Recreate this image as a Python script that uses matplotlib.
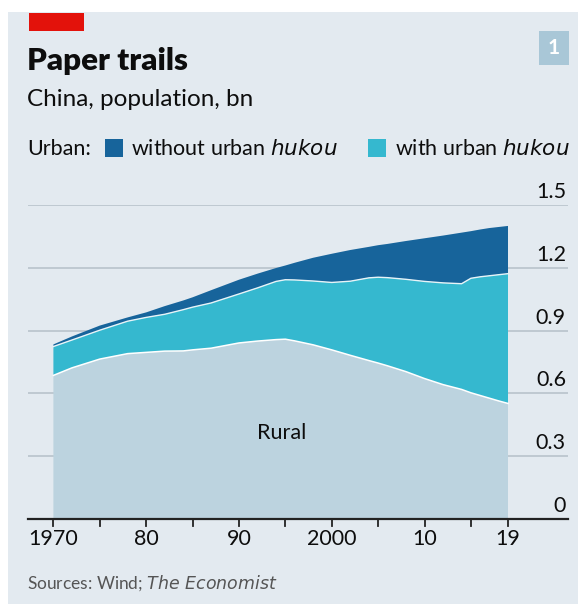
import matplotlib
matplotlib.use("Agg")
import matplotlib.pyplot as plt
from matplotlib.patches import Rectangle
import matplotlib.transforms as mtransforms

# ---- data (bn) ----
years = [1970, 1972, 1975, 1978, 1980, 1982, 1984, 1985, 1987, 1990, 1992, 1994,
         1995, 1996, 1998, 2000, 2002, 2004, 2005, 2006, 2008, 2010, 2012, 2014,
         2015, 2016, 2017, 2018, 2019]
rural = [0.686, 0.722, 0.764, 0.790, 0.796, 0.802, 0.803, 0.808, 0.816, 0.841, 0.850, 0.857,
         0.859, 0.851, 0.832, 0.808, 0.782, 0.757, 0.745, 0.732, 0.704, 0.671, 0.642, 0.619,
         0.603, 0.590, 0.577, 0.564, 0.552]
urban_hukou = [0.138, 0.133, 0.138, 0.155, 0.167, 0.176, 0.197, 0.204, 0.216, 0.234, 0.254, 0.278,
               0.284, 0.291, 0.305, 0.322, 0.354, 0.395, 0.410, 0.421, 0.441, 0.464, 0.486, 0.505,
               0.547, 0.567, 0.585, 0.603, 0.620]
urban_no_hukou = [0.010, 0.017, 0.022, 0.018, 0.024, 0.039, 0.044, 0.047, 0.061, 0.068, 0.068, 0.064,
                  0.068, 0.082, 0.111, 0.137, 0.149, 0.148, 0.153, 0.161, 0.183, 0.206, 0.226, 0.244,
                  0.225, 0.226, 0.228, 0.228, 0.228]

y_ticks = [0, 0.3, 0.6, 0.9, 1.2, 1.5]
y_tick_labels = ["0", "0.3", "0.6", "0.9", "1.2", "1.5"]
x_label_years = [1970, 1980, 1990, 2000, 2010, 2019]
x_labels = ["1970", "80", "90", "2000", "10", "19"]
x_minor_years = [1970, 1975, 1980, 1985, 1990, 1995, 2000, 2005, 2010, 2015, 2019]

# ---- styling ----
W, H = 578, 604
BG = "#e3eaf0"
C_RURAL = "#bcd3df"
C_HUKOU = "#35b8cf"
C_NOHUKOU = "#17649b"
GRID = "#bcc6ce"
FONT = "Lato"
TXT = "#0d0d0d"
plt.rcParams["font.family"] = [FONT, "DejaVu Sans"]

fig = plt.figure(figsize=(W / 100, H / 100), dpi=100, facecolor="white")

def fx(px):
    return px / W

def fy(py):
    return 1 - py / H

# panel background
fig.patches.append(Rectangle((fx(8), 0), 1 - fx(8), fy(12), transform=fig.transFigure,
                             facecolor=BG, edgecolor="none", zorder=-10))
# red tag
fig.patches.append(Rectangle((fx(29), fy(31)), fx(84) - fx(29), fy(13) - fy(31),
                             transform=fig.transFigure, facecolor="#e3120b", edgecolor="none", zorder=-5))
# number box
fig.patches.append(Rectangle((fx(539), fy(65)), fx(569) - fx(539), fy(31) - fy(65),
                             transform=fig.transFigure, facecolor="#a9c7d7", edgecolor="none", zorder=-5))
fig.text(fx(554), fy(48), "1", color="white", fontsize=15, fontweight="bold",
         ha="center", va="center")

# titles
fig.text(fx(27), fy(70), "Paper trails", fontsize=22.5, fontweight="heavy", color=TXT,
         ha="left", va="baseline")
fig.text(fx(27), fy(106), "China, population, bn", fontsize=17.5, color=TXT,
         ha="left", va="baseline")

# legend
ly = 155
LFS = 15.5
fig.text(fx(27), fy(ly), "Urban:", fontsize=LFS, color=TXT, ha="left", va="baseline")
fig.patches.append(Rectangle((fx(105), fy(157)), fx(123) - fx(105), fy(139) - fy(157),
                             transform=fig.transFigure, facecolor=C_NOHUKOU, edgecolor="none", zorder=-5))
fig.text(fx(131), fy(ly), "without urban $\\it{hukou}$", fontsize=LFS, color=TXT,
         ha="left", va="baseline")
fig.patches.append(Rectangle((fx(368), fy(157)), fx(386) - fx(368), fy(139) - fy(157),
                             transform=fig.transFigure, facecolor=C_HUKOU, edgecolor="none", zorder=-5))
fig.text(fx(395), fy(ly), "with urban $\\it{hukou}$", fontsize=LFS, color=TXT,
         ha="left", va="baseline")

# axes
ax_l, ax_r, ax_t, ax_b = 28, 568, 205, 519
ax = fig.add_axes([fx(ax_l), fy(ax_b), fx(ax_r) - fx(ax_l), fy(ax_t) - fy(ax_b)])
ax.set_zorder(5)
ax.set_facecolor("none")
ax.set_ylim(0, 1.5)
px_per_year = (508 - 53.4) / 49
ax.set_xlim(1970 - (53.4 - ax_l) / px_per_year, 2019 + (ax_r - 508) / px_per_year)
for s in ax.spines.values():
    s.set_visible(False)
ax.set_xticks([])
ax.set_yticks([])

for t in y_ticks[1:]:
    ax.axhline(t, color=GRID, lw=1.3, zorder=0)

ax.stackplot(years, rural, urban_hukou, urban_no_hukou,
             colors=[C_RURAL, C_HUKOU, C_NOHUKOU], linewidth=0, zorder=2)
top2 = [r + h for r, h in zip(rural, urban_hukou)]
ax.plot(years, rural, color="white", lw=1.1, zorder=3)
ax.plot(years, top2, color="#e8f4f8", lw=1.0, zorder=3)

ax.axhline(0, color="#222222", lw=1.6, zorder=4, clip_on=False)

trans = mtransforms.blended_transform_factory(ax.transAxes, ax.transData)
for t, lab in zip(y_ticks, y_tick_labels):
    ax.text(1.0 - 2 / (ax_r - ax_l), t + 0.014, lab, transform=trans, ha="right", va="bottom",
            fontsize=15.5, color=TXT)

for yr in x_minor_years:
    ax.plot([yr, yr], [0, -0.035], color="#222222", lw=1.3, clip_on=False, zorder=4)
for yr, lab in zip(x_label_years, x_labels):
    ax.text(yr, -0.05, lab, ha="center", va="top", fontsize=15.5, color=TXT)

ax.text(1994.6, 0.41, "Rural", ha="center", va="center", fontsize=15.5, color=TXT, zorder=5)

# source
fig.text(fx(27), fy(589), "Sources: Wind; $\\it{The\\ Economist}$", fontsize=12.5, color="#555555",
         ha="left", va="baseline")

fig.savefig("out.png", dpi=100, facecolor="white")
